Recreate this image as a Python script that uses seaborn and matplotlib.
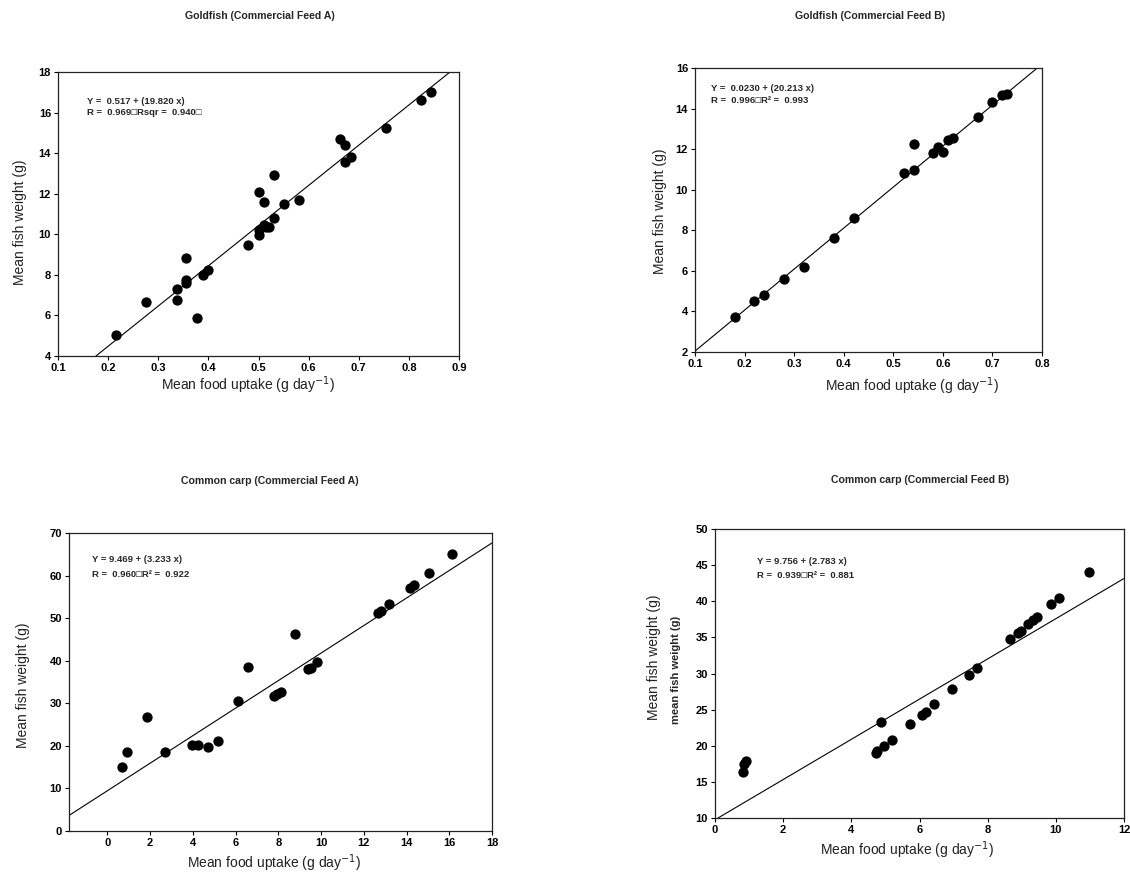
import matplotlib
matplotlib.use("Agg")
import matplotlib.pyplot as plt
import seaborn as sns
import pandas as pd

W, H = 1130, 875

# Goldfish, commercial feed A
gfa_uptake = [0.215, 0.276, 0.337, 0.337, 0.356, 0.356, 0.356, 0.378, 0.389, 0.399,
              0.480, 0.500, 0.500, 0.500, 0.510, 0.510, 0.515, 0.520, 0.530, 0.530,
              0.551, 0.581, 0.662, 0.672, 0.672, 0.684, 0.755, 0.824, 0.845]
gfa_weight = [5.02, 6.67, 7.32, 6.78, 8.84, 7.76, 7.58, 5.87, 7.98, 8.23,
              9.47, 12.10, 10.21, 9.96, 11.61, 10.46, 10.35, 10.37, 12.93, 10.82,
              11.49, 11.69, 14.69, 14.41, 13.54, 13.83, 15.23, 16.60, 17.00]

# Goldfish, commercial feed B
gfb_uptake = [0.180, 0.219, 0.239, 0.279, 0.320, 0.380, 0.421, 0.521, 0.541, 0.541,
              0.580, 0.591, 0.601, 0.611, 0.620, 0.670, 0.699, 0.720, 0.730]
gfb_weight = [3.71, 4.50, 4.81, 5.61, 6.19, 7.63, 8.62, 10.82, 10.96, 12.23,
              11.82, 12.10, 11.87, 12.43, 12.53, 13.56, 14.30, 14.65, 14.70]

# Common carp, commercial feed A
cca_uptake = [0.70, 0.92, 1.86, 2.71, 3.98, 4.23, 4.72, 5.17, 6.11, 6.58,
              7.80, 7.95, 8.10, 8.76, 9.40, 9.55, 9.83, 12.65, 12.81, 13.20,
              14.14, 14.34, 15.03, 16.13]
cca_weight = [15.0, 18.5, 26.8, 18.5, 20.2, 20.2, 19.8, 21.2, 30.6, 38.5,
              31.8, 32.2, 32.6, 46.3, 38.1, 38.4, 39.8, 51.2, 51.7, 53.4,
              57.1, 57.8, 60.6, 65.0]

# Common carp, commercial feed B
ccb_uptake = [0.82, 0.84, 0.92, 4.72, 4.74, 4.88, 4.96, 5.19, 5.72, 6.07,
              6.18, 6.42, 6.96, 7.44, 7.69, 8.66, 8.89, 8.98, 9.18, 9.33,
              9.44, 9.86, 10.08, 10.98]
ccb_weight = [16.4, 17.5, 17.9, 19.0, 19.3, 23.3, 19.9, 20.8, 22.95, 24.3,
              24.65, 25.8, 27.8, 29.8, 30.8, 34.75, 35.6, 35.9, 36.9, 37.4,
              37.8, 39.6, 40.4, 44.1]

titles = ["Goldfish (Commercial Feed A)", "Goldfish (Commercial Feed B)",
          "Common carp (Commercial Feed A)", "Common carp (Commercial Feed B)"]
intercepts = [0.517, 0.0230, 9.469, 9.756]
slopes = [19.820, 20.213, 3.233, 2.783]
eq_lines = [("Y =  0.517 + (19.820 x)", "R =  0.969\u25a1Rsqr =  0.940\u25a1"),
            ("Y =  0.0230 + (20.213 x)", "R =  0.996\u25a1R\u00b2 =  0.993"),
            ("Y = 9.469 + (3.233 x)", "R =  0.960\u25a1R\u00b2 =  0.922"),
            ("Y = 9.756 + (2.783 x)", "R =  0.939\u25a1R\u00b2 =  0.881")]
xticks = [[0.1, 0.2, 0.3, 0.4, 0.5, 0.6, 0.7, 0.8, 0.9],
          [0.1, 0.2, 0.3, 0.4, 0.5, 0.6, 0.7, 0.8],
          [0, 2, 4, 6, 8, 10, 12, 14, 16, 18],
          [0, 2, 4, 6, 8, 10, 12]]
yticks = [[4, 6, 8, 10, 12, 14, 16, 18],
          [2, 4, 6, 8, 10, 12, 14, 16],
          [0, 10, 20, 30, 40, 50, 60, 70],
          [10, 15, 20, 25, 30, 35, 40, 45, 50]]
xlims = [(0.1, 0.9), (0.1, 0.8), (-1.8, 18), (0, 12)]
ylims = [(4, 18), (2, 16), (0, 70), (10, 50)]

# layout in pixels: axes box (left, top, right, bottom), title, xlabel, ylabel, equation
boxes = [(58, 72, 459, 356), (695, 68, 1042, 352), (69, 533, 492, 831), (715, 529, 1124, 818)]
title_pos = [(260, 16), (870, 16), (270, 481), (920, 480)]
xlab_pos = [(248, 385), (912, 386), (274, 863), (907, 850)]
ylab_pos = [(20, 222), (660, 211), (23, 685), (654, 657)]
eq_pos = [((0.158, 16.55), (0.158, 16.0)), ((0.132, 15.0), (0.132, 14.4)),
          ((-0.7, 63.7), (-0.7, 60.2)), ((1.23, 45.5), (1.23, 43.5))]


def px_axes(fig, box):
    l, t, r, b = box
    return fig.add_axes([l / W, 1 - b / H, (r - l) / W, (b - t) / H])


sns.set_theme(style="ticks")
plt.rcParams['font.family'] = ['Liberation Sans', 'DejaVu Sans']

fig = plt.figure(figsize=(W / 100, H / 100), dpi=100)
fig.patch.set_facecolor("white")

data = [(gfa_uptake, gfa_weight), (gfb_uptake, gfb_weight),
        (cca_uptake, cca_weight), (ccb_uptake, ccb_weight)]

for i, (xs, ys) in enumerate(data):
    ax = px_axes(fig, boxes[i])
    df = pd.DataFrame({"uptake": xs, "weight": ys})
    sns.scatterplot(data=df, x="uptake", y="weight", ax=ax, color="black",
                    s=55, edgecolor="black", linewidth=0, zorder=3)
    ax.axline((0, intercepts[i]), slope=slopes[i], color="black", lw=0.8, zorder=2)
    ax.set_xlim(*xlims[i])
    ax.set_ylim(*ylims[i])
    ax.set_xticks(xticks[i])
    ax.set_yticks(yticks[i])
    ax.set_xticklabels([f"{v:g}" for v in xticks[i]], fontsize=8, fontweight="bold")
    ax.set_yticklabels([f"{v:g}" for v in yticks[i]], fontsize=8, fontweight="bold")
    ax.tick_params(direction="out", length=3, width=0.8, pad=2, colors="black")
    for sp in ax.spines.values():
        sp.set_visible(True)
        sp.set_linewidth(0.9)
        sp.set_color("#222222")
    ax.set_xlabel("")
    ax.set_ylabel("")
    (x1, y1), (x2, y2) = eq_pos[i]
    ax.text(x1, y1, eq_lines[i][0], fontsize=6.8, fontweight="bold", va="center", ha="left")
    ax.text(x2, y2, eq_lines[i][1], fontsize=6.8, fontweight="bold", va="center", ha="left")

    tx, ty = title_pos[i]
    fig.text(tx / W, 1 - ty / H, titles[i], fontsize=7.6, fontweight="bold",
             ha="center", va="center")
    lx, ly = xlab_pos[i]
    fig.text(lx / W, 1 - ly / H, "Mean food uptake (g day$^{-1}$)", fontsize=10,
             ha="center", va="center", color="#222222")
    yx, yy = ylab_pos[i]
    fig.text(yx / W, 1 - yy / H, "Mean fish weight (g)", fontsize=10, rotation=90,
             ha="center", va="center", color="#222222")

# second, bold axis label left over on the last panel
fig.text(676 / W, 1 - 670 / H, "mean fish weight (g)", fontsize=8, fontweight="bold",
         rotation=90, ha="center", va="center")

fig.savefig("out.png", dpi=100, facecolor="white")
